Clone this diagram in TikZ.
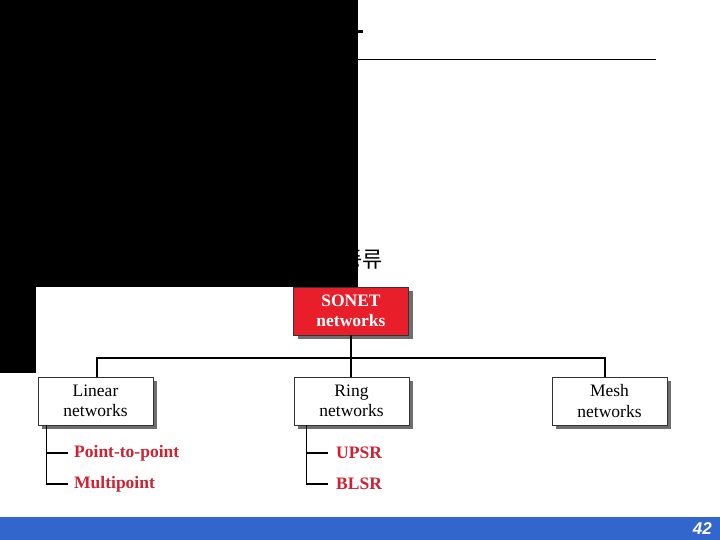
\documentclass[tikz,border=0pt]{standalone}
\usepackage{fontspec}
\setmainfont{Liberation Serif}
\newfontfamily\cjk{Noto Sans CJK KR}
\newfontfamily\sansf{Liberation Sans}
\usetikzlibrary{shadows,calc}
\definecolor{sonetred}{RGB}{232,30,42}
\definecolor{labred}{RGB}{205,35,50}
\definecolor{barblue}{RGB}{51,102,204}
\definecolor{shadowgray}{RGB}{110,110,110}
\tikzset{
  netbox/.style={draw=black!80, line width=0.8pt, minimum width=115pt, minimum height=48pt,
    align=center, font=\fontsize{17.5}{20.5}\selectfont, fill=white, inner sep=1pt,
    drop shadow={shadow xshift=4pt, shadow yshift=-4pt, fill=shadowgray, opacity=1}},
  leaf/.style={anchor=west, inner sep=0pt, text=labred, font=\fontsize{17.5}{19}\selectfont\bfseries},
  link/.style={line width=1.2pt, black}
}
\begin{document}
\begin{tikzpicture}[x=1pt,y=-1pt]
\useasboundingbox (0,0) rectangle (720,540);
\fill[white] (0,0) rectangle (720,540);
% title rule
\draw[line width=1pt] (357,60) -- (656,60);
\fill[black] (357,30) rectangle (363,33);
% subtitle (partly hidden)
\node[anchor=east, inner sep=0pt, font=\cjk\fontsize{22}{24}\selectfont] (sub) at (383,259) {SONET 네트워크의 종류};
% boxes
\node[netbox, fill=sonetred, text=white, font=\fontsize{17.5}{20.5}\selectfont\bfseries] (sonet) at (351,311) {SONET\\networks};
\node[netbox] (linear) at (95.5,401) {Linear\\networks};
\node[netbox] (ring) at (351.5,401) {Ring\\networks};
\node[netbox] (mesh) at (609.5,401) {Mesh\\networks};
% bus
\coordinate (bus) at (351,358);
\coordinate (meshtop) at ([xshift=-4.5pt]mesh.north);
\coordinate (lintop) at ([xshift=1.5pt]linear.north);
\draw[link] (sonet.south) -- (bus);
\draw[link] (lintop) |- (bus) -| (meshtop);
\draw[link] (bus) -- (ring.north -| bus);
% leaves
\node[leaf] (p2p) at (74,453) {Point-to-point};
\node[leaf] (mp) at (74,484) {Multipoint};
\node[leaf] (upsr) at (336,453) {UPSR};
\node[leaf] (blsr) at (336,484) {BLSR};
\coordinate (lt) at ([xshift=9pt]linear.south west);
\coordinate (rt) at ([xshift=13pt]ring.south west);
\draw[link] (lt) |- ([xshift=-6pt]mp.west);
\draw[link] (lt |- p2p.west) -- ([xshift=-6pt]p2p.west);
\draw[link] (rt) |- ([xshift=-8pt]blsr.west);
\draw[link] (rt |- upsr.west) -- ([xshift=-8pt]upsr.west);
% bottom bar
\fill[barblue] (0,517) rectangle (720,540);
\node[anchor=east, text=white, inner sep=0pt, font=\sansf\fontsize{17}{18}\selectfont\bfseries\itshape] (pg) at (712,528.5) {42};
% black masks
\fill[black] (0,0) rectangle (358,287);
\fill[black] (0,287) rectangle (36,373);
\end{tikzpicture}
\end{document}
